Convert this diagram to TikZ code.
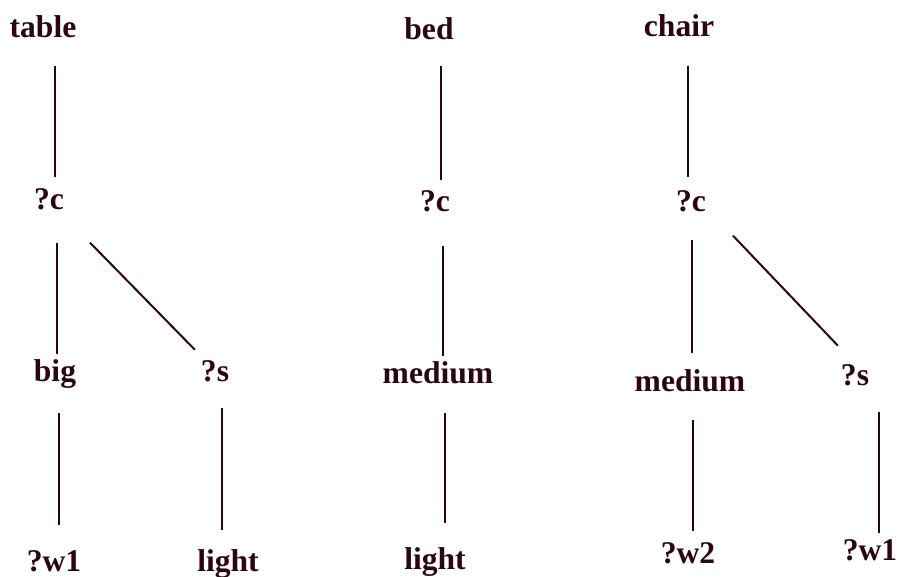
\documentclass[tikz,border=0pt]{standalone}
\usepackage{fontspec}
\setmainfont{Liberation Serif}
\usetikzlibrary{positioning}
\definecolor{ink}{HTML}{2A0614}

\begin{document}
\begin{tikzpicture}[x=0.5pt,y=-0.5pt,
    word/.style={anchor=base,inner sep=0pt,text height=0.68em,text depth=0.22em,
      font=\fontsize{15.8}{18}\selectfont\bfseries,text=ink},
    link/.style={draw=ink,line width=1pt}]
  \useasboundingbox (0,0) rectangle (904,577);

  % top row
  \node[word] (table) at (43,38) {table};
  \node[word] (bed)   at (429,40) {bed};
  \node[word] (chair) at (679,37) {chair};

  % variables
  \node[word] (cA) at (49,210) {?c};
  \node[word] (cB) at (435,212) {?c};
  \node[word] (cC) at (691,212) {?c};

  % values
  \node[word] (big)  at (55,381) {big};
  \node[word] (sA)   at (215,381) {?s};
  \node[word] (medB) at (438,383) {medium};
  \node[word] (medC) at (690,391) {medium};
  \node[word] (sC)   at (855,385) {?s};

  % leaves
  \node[word] (wA)     at (54,571) {?w1};
  \node[word] (lightA) at (228,571) {light};
  \node[word] (lightB) at (435,569) {light};
  \node[word] (wC2)    at (688,563) {?w2};
  \node[word] (wC1)    at (870,560) {?w1};

  % vertical links: parent/child/shift/gap above/gap below
  \foreach \p/\c/\dx/\a/\b in {table/cA/3/11.5/9.25, cA/big/1/14/6.75, big/wA/2.5/13.5/16.25,
      sA/lightA/-3/11/13.75, bed/cB/3/10.5/8.75, cB/medB/2.5/14.5/6.75, medB/lightB/5/12.5/16.25,
      chair/cC/-1.5/12/10.25, cC/medC/1/11.5/12.25, medC/wC2/2.5/12/9.25, sC/wC1/4.5/11/6.75}
    \draw[link,shorten <=\a pt,shorten >=\b pt] ([xshift=\dx pt]\c.north |- \p.south) -- ([xshift=\dx pt]\c.north);

  % slanted links
  \draw[link,shorten <=26.1pt,shorten >=18.7pt] ([xshift=2.25pt]cA.center) -- ([xshift=3pt]sA.center);
  \draw[link,shorten <=19.5pt,shorten >=24pt] ([xshift=7.5pt]cC.center) -- ([xshift=8pt]sC.center);
\end{tikzpicture}
\end{document}
